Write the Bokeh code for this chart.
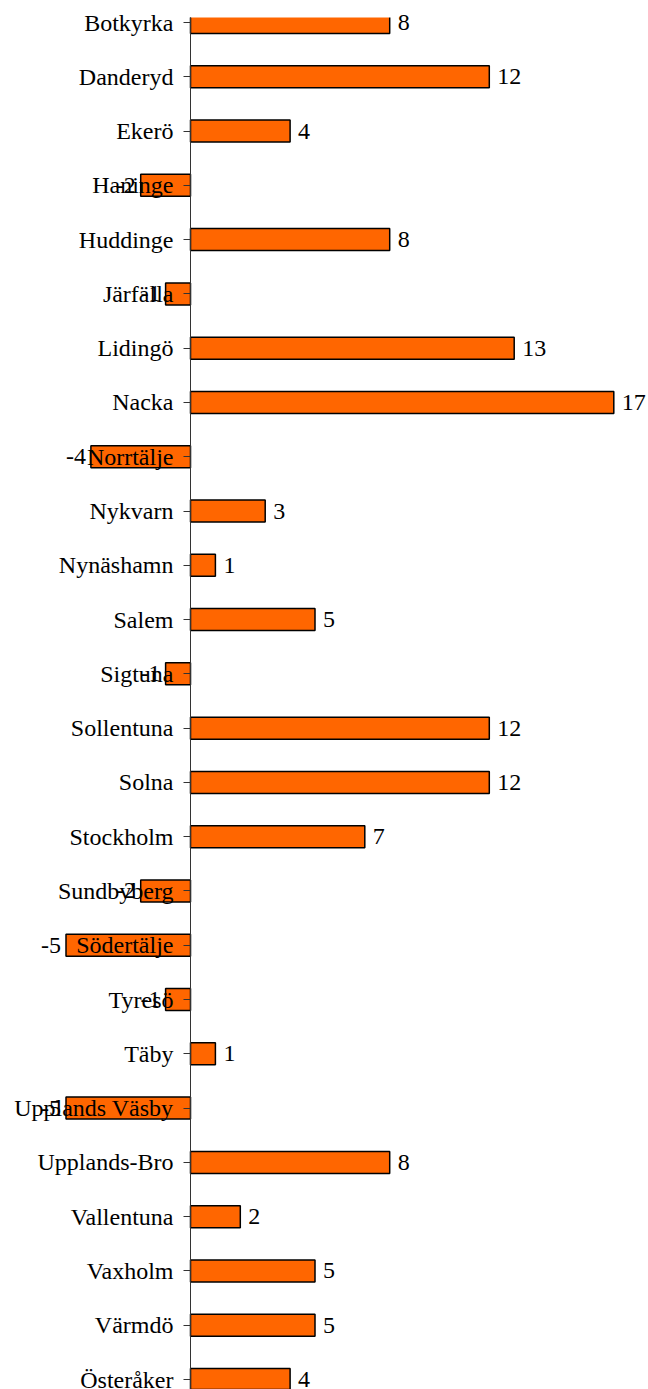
from bokeh.plotting import figure
from bokeh.models import Range1d, FixedTicker, ColumnDataSource, LabelSet, BoxAnnotation
from bokeh.core.properties import value
from bokeh.embed import file_html
from bokeh.resources import INLINE

categories = ["Botkyrka", "Danderyd", "Ekerö", "Haninge", "Huddinge", "Järfälla",
              "Lidingö", "Nacka", "Norrtälje", "Nykvarn", "Nynäshamn", "Salem",
              "Sigtuna", "Sollentuna", "Solna", "Stockholm", "Sundbyberg",
              "Södertälje", "Tyresö", "Täby", "Upplands Väsby", "Upplands-Bro",
              "Vallentuna", "Vaxholm", "Värmdö", "Österåker"]
values = [8, 12, 4, -2, 8, -1, 13, 17, -4, 3, 1, 5, -1, 12, 12, 7, -2, -5, -1, 1,
          -5, 8, 2, 5, 5, 4]

n = len(categories)
ypos = [n - 1 - i for i in range(n)]

W, H = 648, 1389
px_per_unit_x = 24.9
px_per_row = 54.28
x_start = -190 / px_per_unit_x
x_end = x_start + W / px_per_unit_x
y_end = (n - 1) + 22 / px_per_row
y_start = y_end - H / px_per_row
plot_top = (n - 1) + 5 / px_per_row  # plot area top edge (17px from the top)

FONT = "'Liberation Serif'"

p = figure(width=W, height=H, output_backend="svg", toolbar_location=None,
           x_range=Range1d(x_start, x_end), y_range=Range1d(y_start, y_end),
           min_border=0, min_border_left=0, min_border_right=0,
           min_border_top=0, min_border_bottom=0)
p.outline_line_color = None
p.xaxis.visible = False
p.xgrid.visible = False
p.ygrid.visible = False
p.background_fill_color = "white"
p.border_fill_color = "white"

src = ColumnDataSource(dict(y=ypos, v=values, cat=categories))
p.hbar(y="y", left=0, right="v", height=22 / px_per_row, source=src,
       fill_color="#FF6600", line_color="black", line_width=1.5)

# plot-area clip above the first row
p.add_layout(BoxAnnotation(bottom=plot_top, fill_color="white", fill_alpha=1.0,
                           line_color=None, level="glyph"))

pos_src = ColumnDataSource(dict(
    x=[v for v in values if v >= 0],
    y=[y for y, v in zip(ypos, values) if v >= 0],
    t=[str(v) for v in values if v >= 0]))
neg_src = ColumnDataSource(dict(
    x=[v for v in values if v < 0],
    y=[y for y, v in zip(ypos, values) if v < 0],
    t=[str(v) for v in values if v < 0]))
cat_src = ColumnDataSource(dict(x=[0] * n, y=ypos, t=categories))

common = dict(text_font=value(FONT), text_font_size="24px", text_color="black",
              text_baseline="middle")

ax = p.yaxis[0]
ax.fixed_location = 0
ax.bounds = (y_start, plot_top)
ax.ticker = FixedTicker(ticks=ypos)
ax.major_label_text_font_size = "0px"
ax.major_label_text_alpha = 0
ax.major_tick_out = 7
ax.major_tick_in = 0
ax.minor_tick_out = 0
ax.minor_tick_in = 0
ax.axis_line_color = "#333333"
ax.major_tick_line_color = "#333333"

p.add_layout(LabelSet(x="x", y="y", text="t", source=cat_src, x_offset=-17,
                      text_align="right", **common))
p.add_layout(LabelSet(x="x", y="y", text="t", source=pos_src, x_offset=8,
                      text_align="left", **common))
p.add_layout(LabelSet(x="x", y="y", text="t", source=neg_src, x_offset=-5,
                      text_align="right", **common))

open("out.html", "w").write(file_html(p, INLINE))
